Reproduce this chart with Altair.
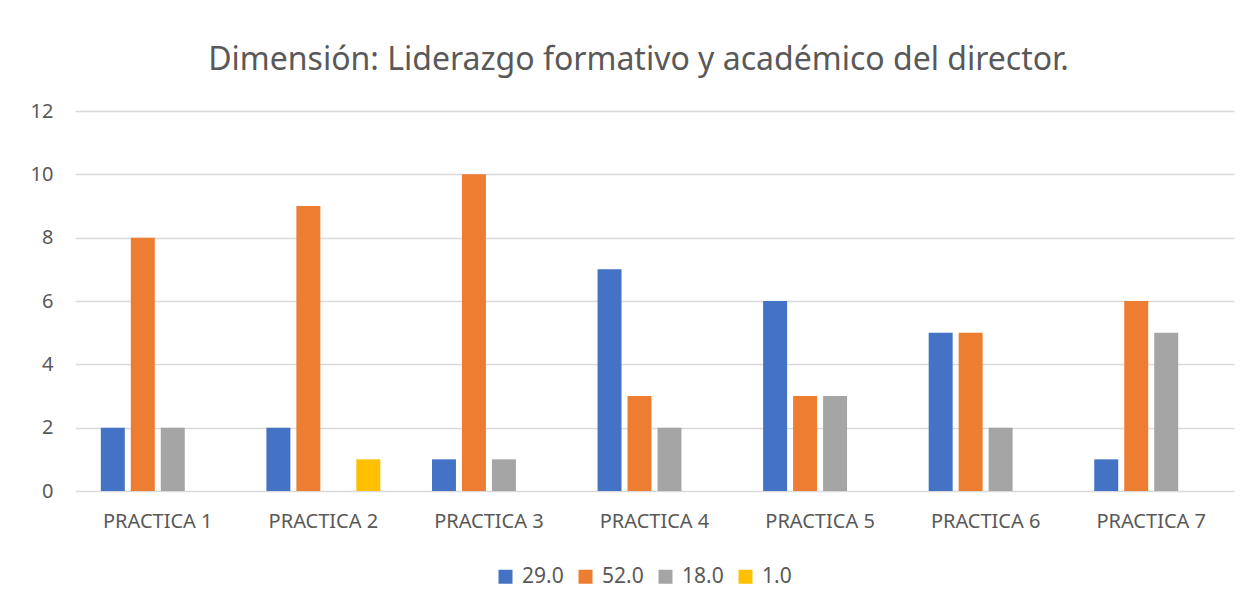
import altair as alt
import pandas as pd

categories = ["PRACTICA 1", "PRACTICA 2", "PRACTICA 3", "PRACTICA 4",
              "PRACTICA 5", "PRACTICA 6", "PRACTICA 7"]
series = ["29.0", "52.0", "18.0", "1.0"]
s29 = [2, 2, 1, 7, 6, 5, 1]
s52 = [8, 9, 10, 3, 3, 5, 6]
s18 = [2, 0, 1, 2, 3, 2, 5]
s1 = [0, 1, 0, 0, 0, 0, 0]
colors = ["#4472C4", "#ED7D31", "#A5A5A5", "#FFC000"]
y_ticks = [0, 2, 4, 6, 8, 10, 12]

rows = []
for name, vals in zip(series, [s29, s52, s18, s1]):
    for c, v in zip(categories, vals):
        rows.append({"cat": c, "serie": name, "valor": v})
df = pd.DataFrame(rows)

FONT = "Noto Sans"
TXT = "#595959"

chart = alt.Chart(df).mark_bar().encode(
    x=alt.X("cat:N", sort=categories,
            scale=alt.Scale(paddingInner=0.312, paddingOuter=0.156),
            axis=alt.Axis(title=None, labelAngle=0, grid=False, domain=False,
                          ticks=False, labelPadding=20, labelFont=FONT,
                          labelFontSize=20, labelColor=TXT)),
    xOffset=alt.XOffset("serie:N", sort=series,
                        scale=alt.Scale(domain=series, paddingInner=0.2, paddingOuter=0)),
    y=alt.Y("valor:Q", scale=alt.Scale(domain=[0, 12]),
            axis=alt.Axis(title=None, values=y_ticks, domain=False, ticks=False,
                          labelPadding=22, grid=True, gridColor="#D9D9D9",
                          gridWidth=1.3, labelFont=FONT, labelFontSize=20,
                          labelColor=TXT)),
    color=alt.Color("serie:N", sort=series,
                    scale=alt.Scale(domain=series, range=colors),
                    legend=alt.Legend(title=None, orient="none", direction="horizontal",
                                      legendX=420, legendY=455, symbolType="square",
                                      symbolSize=196, symbolStrokeWidth=0,
                                      labelFontSize=21, labelFont=FONT, labelColor=TXT,
                                      columnPadding=11, labelOffset=6)),
).properties(
    width=1159, height=380,
    background="white",
    autosize=alt.AutoSizeParams(type="none"),
    padding={"left": 67, "top": 103, "right": 7, "bottom": 100},
    title=alt.TitleParams("Dimensión: Liderazgo formativo y académico del director.",
                          font=FONT, fontSize=32, fontWeight="normal", color=TXT,
                          anchor="middle", dx=-16, offset=24),
).configure_view(strokeWidth=0).configure_legend(labelFontSize=21, labelFont=FONT)

chart.save("out.html", embed_options={"renderer": "svg", "actions": False})
